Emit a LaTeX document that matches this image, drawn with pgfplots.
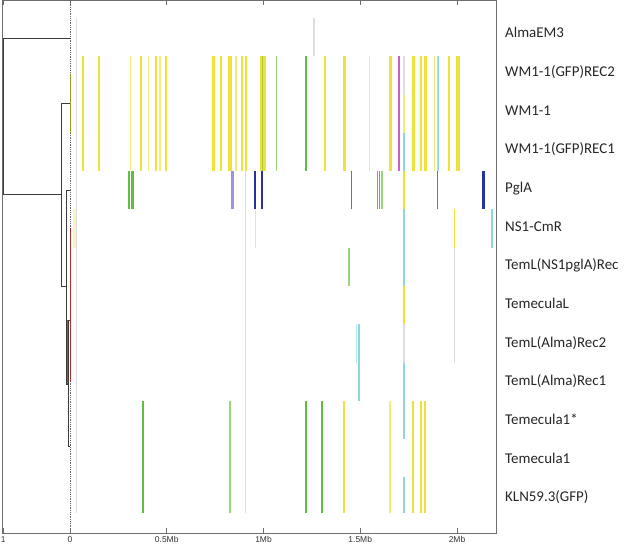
\documentclass[border=0pt]{standalone}
\usepackage{pgfplots}
\pgfplotsset{compat=1.18}
\usepackage{fontspec}
\setmainfont{Carlito}
\newfontfamily\tickfont{Liberation Sans}
\definecolor{yel}{RGB}{238,226,58}
\definecolor{yelL}{RGB}{242,236,120}
\definecolor{yelP}{RGB}{248,245,190}
\definecolor{grn}{RGB}{95,190,65}
\definecolor{grnL}{RGB}{150,215,125}
\definecolor{oliveL}{RGB}{170,200,60}
\definecolor{dblu}{RGB}{40,50,155}
\definecolor{mblu}{RGB}{100,110,205}
\definecolor{lav}{RGB}{155,150,215}
\definecolor{mag}{RGB}{205,95,205}
\definecolor{cyn}{RGB}{140,215,222}
\definecolor{cynL}{RGB}{185,232,236}
\definecolor{gryL}{RGB}{222,222,222}
\definecolor{frame}{RGB}{110,110,110}
\definecolor{dend}{RGB}{60,60,60}
\definecolor{redd}{RGB}{185,45,45}
\definecolor{olv}{RGB}{150,160,40}
\newcommand{\vb}[5]{\addplot[draw=#4, line width=#5bp, forget plot] coordinates {(#1,#2) (#1,#3)};}
\begin{document}
\begin{tikzpicture}
\begin{axis}[
  width=494bp, height=533bp, scale only axis,
  xmin=-0.3514, xmax=2.2016, ymin=-0.47, ymax=13.45, y dir=reverse,
  axis line style={draw=frame, line width=0.8bp},
  xtick={-0.3447,0,0.5,1,1.5,2}, xticklabels={1,0,0.5Mb,1Mb,1.5Mb,2Mb},
  xtick pos=both, xtick align=inside, major tick length=5bp,
  xtick style={draw=frame, line width=0.6bp},
  xticklabel style={font=\tickfont\fontsize{8.5}{9}\selectfont, inner sep=0pt, yshift=-3.5bp, text=black!80},
  ytick={0.39,1.40,2.41,3.42,4.43,5.44,6.45,7.46,8.47,9.48,10.49,11.50,12.51},
  yticklabels={AlmaEM3,WM1-1(GFP)REC2,WM1-1,WM1-1(GFP)REC1,PglA,NS1-CmR,TemL(NS1pglA)Rec,TemeculaL,TemL(Alma)Rec2,TemL(Alma)Rec1,Temecula1*,Temecula1,KLN59.3(GFP)},
  yticklabel pos=right, ytick style={draw=none},
  yticklabel style={font=\fontsize{15}{16}\selectfont, anchor=base west, inner sep=0pt, xshift=9bp, yshift=-4.8bp, text=black!85},
]
% background thin gray lines
\vb{0.035}{0}{12.92}{gryL}{1.3}
\vb{1.261}{0}{1}{gryL}{1.3}
\vb{0.908}{4}{12.92}{gryL}{1.3}
% dotted separator at 0
\addplot[draw=black!60, line width=0.8bp, densely dotted, forget plot] coordinates {(0,-0.47) (0,13.45)};
% rows WM1-1 group (1-3)
\vb{0.066}{1}{4}{yel}{2.5}
\vb{0.150}{1}{4}{yel}{2}
\vb{0.314}{1}{4}{yelL}{1.3}
\vb{0.365}{1}{4}{yel}{2}
\vb{0.405}{1}{4}{yelL}{1.3}
\vb{0.444}{1}{4}{yel}{2}
\vb{0.465}{1}{4}{yelL}{1.3}
\vb{0.496}{1}{4}{yel}{2}
\vb{0.741}{1}{4}{yel}{3}
\vb{0.780}{1}{4}{yel}{2}
\vb{0.827}{1}{4}{yel}{4}
\vb{0.858}{1}{4}{yelL}{1.3}
\vb{0.889}{1}{4}{yel}{2.5}
\vb{0.908}{1}{4}{yel}{2}
\vb{0.998}{1}{4}{yel}{6.5}
\vb{0.996}{1}{4}{oliveL}{1.2}
\vb{1.068}{1}{4}{grnL}{1.3}
\vb{1.218}{1}{4}{grn}{2}
\vb{1.318}{1}{4}{yel}{1.5}
\vb{1.418}{1}{4}{yel}{2.5}
\vb{1.547}{1}{4}{yelL}{1.3}
\vb{1.657}{1}{4}{yel}{2.5}
\vb{1.700}{1}{4}{mag}{1.4}
\vb{1.726}{1}{2}{gryL}{1.3}
\vb{1.726}{2}{3}{yelL}{1.3}
\vb{1.726}{3}{4}{cyn}{2}
\vb{1.774}{1}{4}{yel}{2.5}
\vb{1.814}{1}{4}{yel}{2.5}
\vb{1.838}{1}{4}{yel}{3}
\vb{1.883}{1}{4}{yelL}{1.3}
\vb{1.903}{1}{4}{yel}{2.5}
\vb{1.903}{1}{4}{cyn}{1.2}
\vb{1.959}{1}{4}{yel}{2}
\vb{2.004}{1}{4}{yel}{4}
% PglA
\vb{0.305}{4}{5}{grn}{2.5}
\vb{0.322}{4}{5}{grn}{2.5}
\vb{0.839}{4}{5}{lav}{2.5}
\vb{0.956}{4}{5}{dblu}{2.5}
\vb{0.992}{4}{5}{dblu}{2.5}
\vb{1.454}{4}{5}{mblu}{1.4}
\vb{1.588}{4}{5}{grn}{1.4}
\vb{1.600}{4}{5}{grn}{1.4}
\vb{1.612}{4}{5}{grnL}{1.4}
\vb{1.726}{4}{5}{yel}{1.4}
\vb{1.898}{4}{5}{mblu}{1.4}
\vb{2.136}{4}{5}{dblu}{3}
% NS1-CmR
\vb{0.023}{5}{6}{yelP}{2.5}
\vb{0.960}{5}{6}{yelL}{1.4}
\vb{1.726}{5}{7}{cyn}{2}
\vb{1.986}{5}{6}{yel}{1.4}
\vb{2.182}{5}{6}{cyn}{2}
% TemL(NS1pglA)Rec .. TemL(Alma)Rec1
\vb{1.442}{6}{7}{grnL}{2}
\vb{1.986}{6}{9}{gryL}{1.3}
\vb{1.726}{7}{8}{yel}{1.5}
\vb{1.726}{8}{9}{gryL}{1.3}
\vb{1.482}{8}{9}{cynL}{1.3}
\vb{1.494}{8}{10}{cyn}{1.5}
\vb{1.726}{9}{11}{cyn}{2}
% Temecula1*, Temecula1, KLN59.3
\vb{0.376}{10}{12.92}{grn}{2}
\vb{0.827}{10}{12.92}{grnL}{1.5}
\vb{1.218}{10}{12.92}{grn}{2}
\vb{1.302}{10}{12.92}{grn}{1.5}
\vb{1.416}{10}{12.92}{yel}{2}
\vb{1.654}{10}{12.92}{yelL}{1.3}
\vb{1.774}{10}{12.92}{yel}{2}
\vb{1.812}{10}{12.92}{yel}{2}
\vb{1.836}{10}{12.92}{yel}{2}
\vb{1.726}{12}{12.92}{cyn}{2}
% dendrogram
\addplot[draw=dend, line width=0.9bp, forget plot] coordinates {(0.005,0.538) (-0.3447,0.538) (-0.3447,4.62) (-0.0429,4.62)};
\addplot[draw=dend, line width=0.9bp, forget plot] coordinates {(0,2.23) (-0.0429,2.23) (-0.0429,7.02) (-0.0171,7.02)};
\addplot[draw=dend, line width=0.9bp, forget plot] coordinates {(0,4.51) (-0.0171,4.51) (-0.0171,9.56) (-0.0088,9.56)};
\addplot[draw=dend, line width=0.9bp, forget plot] coordinates {(0,7.90) (-0.0088,7.90) (-0.0088,11.19) (0,11.19)};
\addplot[draw=dend!80, line width=1.6bp, forget plot] coordinates {(-0.012,7.90) (-0.012,9.56)};
\addplot[draw=redd, line width=1bp, forget plot] coordinates {(0.0036,5.48) (0.0036,9.50)};
\addplot[draw=olv, line width=1bp, forget plot] coordinates {(0.003,1.46) (0.003,3.0)};
\end{axis}
\pgfresetboundingbox
\path[use as bounding box] ([shift={(-2bp,-12bp)}]current axis.south west) rectangle ([shift={(132bp,0bp)}]current axis.north east);
\end{tikzpicture}
\end{document}
